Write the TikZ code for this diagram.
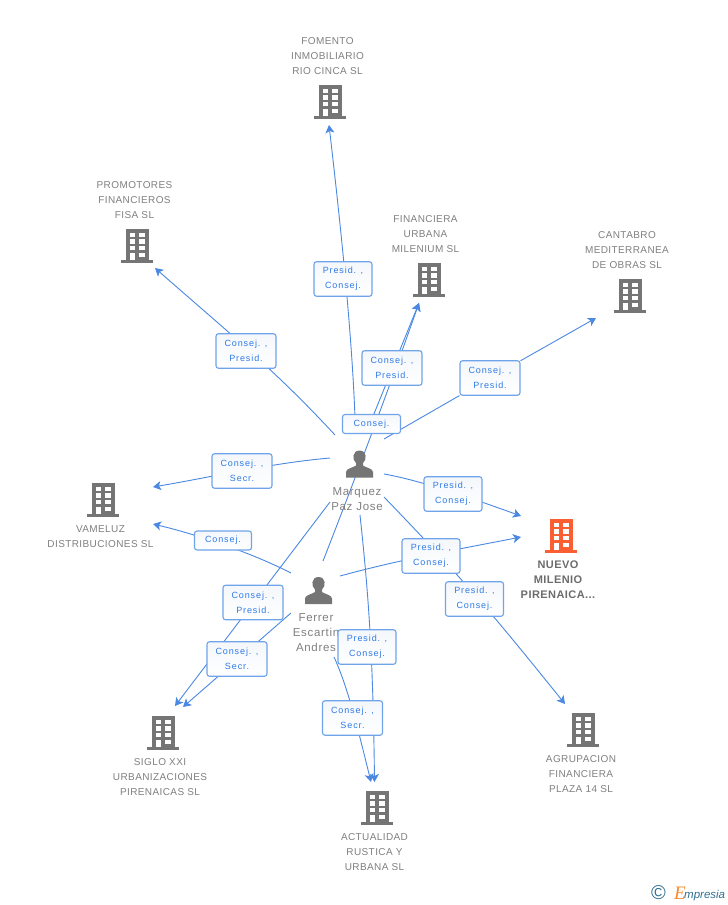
\documentclass[tikz,border=0pt]{standalone}
\usepackage{fontspec}
\usetikzlibrary{arrows.meta}
\setmainfont{Liberation Sans}
\newfontfamily\lbfont[LetterSpace=10]{Liberation Sans}
\newfontfamily\nmfont[LetterSpace=4]{Liberation Sans}
\newfontfamily\prfont[LetterSpace=6]{Liberation Sans}
\newfontfamily\bdfont[LetterSpace=4]{Liberation Sans}
\newfontfamily\logofont{Liberation Serif}
\definecolor{edgeblue}{HTML}{4A88E2}
\definecolor{boxblue}{HTML}{6FA3EA}
\definecolor{labblue}{HTML}{2F7BE6}
\definecolor{icong}{HTML}{757575}
\definecolor{txtg}{HTML}{7F7F7F}
\definecolor{orng}{HTML}{FA5F33}
\definecolor{teal2}{HTML}{2F6F8F}
\definecolor{logoor}{HTML}{F58A2A}
\definecolor{boxtop}{HTML}{F4F7FB}
\pgfdeclarelayer{edges}
\pgfsetlayers{edges,main}
\tikzset{
  x=1pt,y=-1pt,
  lab/.style={draw=boxblue,line width=1.1pt,rounded corners=2.5pt,top color=boxtop,bottom color=white,
    align=center,font=\lbfont\fontsize{9}{15}\selectfont,text=labblue,inner sep=0pt,minimum width=58pt,minimum height=34.5pt},
  labone/.style={lab,minimum height=19pt},
  edge/.style={draw=edgeblue,line width=0.9pt,-{Stealth[length=8pt,width=9pt,inset=2pt]}},
  nametext/.style={font=\nmfont\fontsize{10}{15}\selectfont,text=txtg,align=center,inner sep=0pt},
  boldtext/.style={font=\bdfont\fontsize{11}{15}\selectfont\bfseries,text=txtg!85!black,align=center,inner sep=0pt},
  persontext/.style={font=\prfont\fontsize{11.5}{15}\selectfont,text=txtg,align=center,inner sep=0pt},
  iconbox/.style={inner sep=0pt,minimum width=32pt,minimum height=34pt},
}
% building icon: \bld{node name}{x}{y}{colour}
\newcommand{\bld}[4]{%
  \node[iconbox] (#1) at (#2,#3) {};
  \begin{scope}[shift={(#2,#3)}]
    \fill[#4] (-11,-17) rectangle (12,14);
    \fill[#4] (-16,14) rectangle (16,17);
    \foreach \yy in {-13,-6.6,0}{
      \fill[white] (-7.5,\yy) rectangle (-2.2,\yy+4.4);
      \fill[white] (2.2,\yy) rectangle (7.5,\yy+4.4);
    }
    \fill[white] (2.2,6.6) rectangle (7.5,11);
    \fill[white] (-7.5,6.6) rectangle (-2.2,14);
  \end{scope}}
% person icon: \psn{node name}{x}{y}
\newcommand{\psn}[3]{%
  \node[iconbox,minimum width=27pt,minimum height=28pt] (#1) at (#2,#3) {};
  \begin{scope}[shift={(#2,#3)}]
    \fill[icong] (-13.5,13.5) -- (-13.5,8) .. controls (-13.5,4.5) and (-6,3.5) .. (-3.5,1.5)
      -- (-3.5,-1) .. controls (-7.5,-4) and (-7.5,-13.5) .. (0,-13.5)
      .. controls (7.5,-13.5) and (7.5,-4) .. (3.5,-1) -- (3.5,1.5)
      .. controls (6,3.5) and (13.5,4.5) .. (13.5,8) -- (13.5,13.5) -- cycle;
  \end{scope}}
\begin{document}
\begin{tikzpicture}
\useasboundingbox (0,0) rectangle (728,905);
% icons
\bld{fomento}{330}{102}{icong}
\bld{promotores}{137}{246}{icong}
\bld{financiera}{429}{280}{icong}
\bld{cantabro}{630}{296}{icong}
\bld{vameluz}{103}{500}{icong}
\bld{nuevo}{561}{536}{orng}
\bld{siglo}{163}{733}{icong}
\bld{actualidad}{377}{808}{icong}
\bld{agrupacion}{583}{730}{icong}
\psn{marquez}{359.5}{464}
\psn{ferrer}{318.5}{590.5}
% names
\node[nametext] (tfomento) at (327.5,56) {FOMENTO\\INMOBILIARIO\\RIO CINCA SL};
\node[nametext] (tpromotores) at (134.5,200) {PROMOTORES\\FINANCIEROS\\FISA SL};
\node[nametext] (tfinanciera) at (425.5,234) {FINANCIERA\\URBANA\\MILENIUM SL};
\node[nametext] (tcantabro) at (627,250.5) {CANTABRO\\MEDITERRANEA\\DE OBRAS SL};
\node[nametext] (tvameluz) at (100.5,536.5) {VAMELUZ\\DISTRIBUCIONES SL};
\node[boldtext] (tnuevo) at (558,579.5) {NUEVO\\MILENIO\\PIRENAICA...};
\node[nametext] (tsiglo) at (160,777) {SIGLO XXI\\URBANIZACIONES\\PIRENAICAS SL};
\node[nametext] (tactualidad) at (374.5,852) {ACTUALIDAD\\RUSTICA Y\\URBANA SL};
\node[nametext] (tagrupacion) at (581,774) {AGRUPACION\\FINANCIERA\\PLAZA 14 SL};
\node[persontext] (tmarquez) at (357,499.5) {Marquez\\Paz Jose};
\node[persontext] (tferrer) at (316,632.5) {Ferrer\\Escartin\\Andres};
% relation labels
\node[lab] (l1) at (343,279) {Presid. ,\\Consej.};
\node[lab,minimum width=60pt] (l2) at (246,351) {Consej. ,\\Presid.};
\node[lab,minimum width=60pt] (l3) at (392,368) {Consej. ,\\Presid.};
\node[lab,minimum width=60pt] (l4) at (490,378) {Consej. ,\\Presid.};
\node[labone] (l5) at (371.5,424) {Consej.};
\node[lab,minimum width=60pt] (l6) at (242,471) {Consej. ,\\Secr.};
\node[lab] (l7) at (453,494) {Presid. ,\\Consej.};
\node[labone,minimum width=57pt] (l8) at (223,540.5) {Consej.};
\node[lab] (l9) at (431,556) {Presid. ,\\Consej.};
\node[lab] (l10) at (474.5,599) {Presid. ,\\Consej.};
\node[lab,minimum width=60pt] (l11) at (253,602.5) {Consej. ,\\Presid.};
\node[lab,minimum width=60pt] (l12) at (237,659) {Consej. ,\\Secr.};
\node[lab] (l13) at (367,647) {Presid. ,\\Consej.};
\node[lab,minimum width=60pt] (l14) at (352.5,718) {Consej. ,\\Secr.};
% free ends of the connectors
\coordinate (m1) at (355.5,433);
\coordinate (a1) at (329,125);
\coordinate (m2) at (335,435);
\coordinate (a2) at (155,268);
\coordinate (m3) at (367,431);
\coordinate (a3) at (419,303);
\coordinate (f5) at (323,561);
\coordinate (m4) at (384,439);
\coordinate (a4) at (596,318);
\coordinate (m6) at (330,458);
\coordinate (a6) at (153,487);
\coordinate (m7) at (384,474);
\coordinate (a7) at (521,516);
\coordinate (f8) at (291,573);
\coordinate (a8) at (153,524);
\coordinate (f9) at (340,576);
\coordinate (a9) at (521,537);
\coordinate (m10) at (384,497);
\coordinate (a10) at (565,704);
\coordinate (m11) at (330,502);
\coordinate (a11) at (175,706);
\coordinate (f12) at (291,613);
\coordinate (a12) at (183,707);
\coordinate (m13) at (360,515);
\coordinate (a13) at (374.5,782);
\coordinate (f14) at (334,657);
\coordinate (a14) at (371,782);
\begin{pgfonlayer}{edges}
\draw[edge] (m1) .. controls (353,340) and (340,220) .. (a1);
\draw[edge] (m2) .. controls (275,370) and (229,333) .. (a2);
\draw[edge] (m3) -- (a3);
\draw[edge] (f5) .. controls (345,505) and (385,400) .. (a3);
\draw[edge] (m4) -- (l4) -- (a4);
\draw[edge] (m6) .. controls (272,463) and (212,477) .. (a6);
\draw[edge] (m7) .. controls (424,481) and (482,502) .. (a7);
\draw[edge] (f8) .. controls (250,552) and (195,534) .. (a8);
\draw[edge] (f9) .. controls (402,559) and (460,549) .. (a9);
\draw[edge] (m10) .. controls (466,582) and (495,617) .. (a10);
\draw[edge] (m11) -- (a11);
\draw[edge] (f12) -- (a12);
\draw[edge] (m13) .. controls (368,590) and (373,650) .. (a13);
\draw[edge] (f14) .. controls (347,685) and (357,725) .. (a14);
\end{pgfonlayer}
% logo
\node[inner sep=0pt,font=\fontsize{20}{20}\selectfont,text=teal2] (copyr) at (658.5,893) {\textcopyright};
\node[inner sep=0pt,anchor=base west,font=\itshape\fontsize{11.5}{12}\selectfont,text=teal2] (logo) at (684,898) {mpresia};
\node[inner sep=0pt,anchor=base east,font=\logofont\itshape\fontsize{19}{19}\selectfont,text=logoor] (logoe) at (686,899) {E};
\end{tikzpicture}
\end{document}
